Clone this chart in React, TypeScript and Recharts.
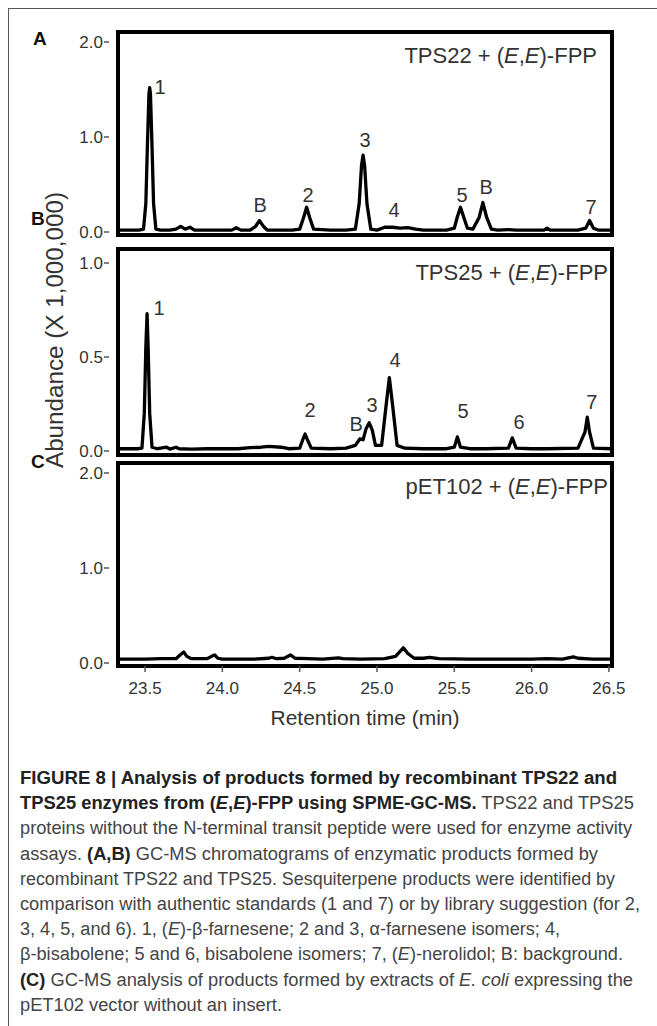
import React from 'react';
import { LineChart, Line, XAxis, YAxis, ReferenceDot } from 'recharts';

const X_MIN = 23.325;
const X_MAX = 26.52;
const xTicks = [23.5, 24.0, 24.5, 25.0, 25.5, 26.0, 26.5];
const yTicksA = [0, 1, 2];
const yTicksB = [0, 0.5, 1];
const yTicksC = [0, 1, 2];

// retention time (min), abundance (x 1,000,000)
const tps22Trace: [number, number][] = [
  [23.325, 0.02], [23.4, 0.02], [23.46, 0.02], [23.49, 0.03], [23.505, 0.3], [23.515, 0.9], [23.525, 1.45],
  [23.53, 1.52], [23.535, 1.45], [23.545, 0.9], [23.555, 0.3], [23.57, 0.03], [23.6, 0.02], [23.66, 0.02],
  [23.7, 0.03], [23.73, 0.06], [23.76, 0.03], [23.79, 0.05], [23.82, 0.02], [23.9, 0.02], [24.0, 0.02],
  [24.06, 0.02], [24.09, 0.045], [24.12, 0.02], [24.18, 0.02], [24.215, 0.06], [24.24, 0.12], [24.265, 0.06],
  [24.29, 0.02], [24.45, 0.02], [24.5, 0.03], [24.525, 0.15], [24.545, 0.26], [24.565, 0.15], [24.59, 0.03],
  [24.7, 0.02], [24.8, 0.02], [24.86, 0.03], [24.885, 0.3], [24.9, 0.7], [24.91, 0.81], [24.92, 0.7],
  [24.935, 0.3], [24.96, 0.03], [25.0, 0.02], [25.05, 0.05], [25.1, 0.05], [25.15, 0.04], [25.2, 0.045],
  [25.25, 0.03], [25.3, 0.02], [25.45, 0.02], [25.5, 0.04], [25.52, 0.16], [25.54, 0.26], [25.56, 0.16],
  [25.585, 0.04], [25.62, 0.03], [25.66, 0.15], [25.685, 0.31], [25.71, 0.15], [25.74, 0.03], [25.78, 0.02],
  [25.85, 0.025], [25.9, 0.02], [26.0, 0.02], [26.08, 0.02], [26.1, 0.04], [26.12, 0.02], [26.3, 0.02],
  [26.35, 0.04], [26.375, 0.12], [26.4, 0.04], [26.43, 0.02], [26.52, 0.02],
];

const tps25Trace: [number, number][] = [
  [23.325, 0.012], [23.45, 0.012], [23.48, 0.015], [23.495, 0.2], [23.505, 0.55], [23.513, 0.73], [23.52, 0.55],
  [23.53, 0.2], [23.545, 0.02], [23.58, 0.012], [23.64, 0.02], [23.66, 0.01], [23.7, 0.02], [23.72, 0.012],
  [23.8, 0.01], [23.9, 0.012], [24.0, 0.012], [24.1, 0.012], [24.18, 0.018], [24.25, 0.02], [24.3, 0.025],
  [24.38, 0.02], [24.43, 0.012], [24.5, 0.015], [24.52, 0.06], [24.535, 0.09], [24.55, 0.06], [24.575, 0.015],
  [24.7, 0.012], [24.8, 0.015], [24.86, 0.03], [24.89, 0.065], [24.91, 0.06], [24.93, 0.12], [24.95, 0.15],
  [24.97, 0.11], [24.99, 0.03], [25.03, 0.03], [25.06, 0.25], [25.08, 0.39], [25.1, 0.25], [25.13, 0.03],
  [25.18, 0.015], [25.3, 0.012], [25.45, 0.012], [25.5, 0.02], [25.52, 0.075], [25.54, 0.02], [25.6, 0.012],
  [25.7, 0.012], [25.85, 0.015], [25.875, 0.07], [25.9, 0.015], [26.0, 0.012], [26.1, 0.012], [26.3, 0.015],
  [26.345, 0.1], [26.36, 0.18], [26.375, 0.1], [26.4, 0.015], [26.52, 0.012],
];

const pet102Trace: [number, number][] = [
  [23.325, 0.04], [23.5, 0.04], [23.6, 0.045], [23.7, 0.045], [23.73, 0.09], [23.75, 0.115], [23.77, 0.07],
  [23.8, 0.045], [23.9, 0.045], [23.93, 0.07], [23.95, 0.085], [23.97, 0.05], [24.0, 0.04], [24.1, 0.04],
  [24.2, 0.04], [24.3, 0.05], [24.32, 0.06], [24.35, 0.045], [24.4, 0.05], [24.44, 0.085], [24.47, 0.05],
  [24.55, 0.045], [24.65, 0.04], [24.75, 0.055], [24.78, 0.045], [24.9, 0.04], [25.05, 0.045], [25.12, 0.07],
  [25.17, 0.16], [25.2, 0.1], [25.24, 0.05], [25.3, 0.05], [25.34, 0.06], [25.4, 0.045], [25.6, 0.04],
  [25.8, 0.04], [26.0, 0.04], [26.1, 0.045], [26.2, 0.04], [26.27, 0.065], [26.3, 0.05], [26.4, 0.04],
  [26.52, 0.04],
];

// peak annotations: retention time, abundance, text
const tps22Labels: [number, number, string][] = [
  [23.597, 1.526, '1'], [24.244, 0.284, 'B'], [24.554, 0.389, '2'], [24.923, 0.968, '3'],
  [25.11, 0.232, '4'], [25.55, 0.389, '5'], [25.706, 0.474, 'B'], [26.385, 0.263, '7'],
];
const tps25Labels: [number, number, string][] = [
  [23.59, 0.76, '1'], [24.567, 0.218, '2'], [24.865, 0.144, 'B'], [24.968, 0.245, '3'],
  [25.117, 0.484, '4'], [25.557, 0.213, '5'], [25.919, 0.154, '6'], [26.39, 0.26, '7'],
];

const FONT = '"Liberation Sans", Arial, Helvetica, sans-serif';

type Seg = [string, string];
const captionLines: Seg[][] = [
  [['FIGURE 8 | Analysis of products formed by recombinant TPS22 and', 'b']],
  [['TPS25 enzymes from (', 'b'], ['E', 'bi'], [',', 'b'], ['E', 'bi'], [')-FPP using SPME-GC-MS.', 'b'], [' TPS22 and TPS25', 'n']],
  [['proteins without the N-terminal transit peptide were used for enzyme activity', 'n']],
  [['assays. ', 'n'], ['(A,B)', 'b'], [' GC-MS chromatograms of enzymatic products formed by', 'n']],
  [['recombinant TPS22 and TPS25. Sesquiterpene products were identified by', 'n']],
  [['comparison with authentic standards (1 and 7) or by library suggestion (for 2,', 'n']],
  [['3, 4, 5, and 6). 1, (', 'n'], ['E', 'i'], [')-β-farnesene; 2 and 3, α-farnesene isomers; 4,', 'n']],
  [['β-bisabolene; 5 and 6, bisabolene isomers; 7, (', 'n'], ['E', 'i'], [')-nerolidol; B: background.', 'n']],
  [['(C)', 'b'], [' GC-MS analysis of products formed by extracts of ', 'n'], ['E. coli', 'i'], [' expressing the', 'n']],
  [['pET102 vector without an insert.', 'n']],
];
const captionWidths = [597, 614, 612, 578, 595, 620, 540, 603, 613, 262];

const FRAME = { stroke: '#000', strokeWidth: 4, strokeLinecap: 'square' as const };

function YTick(props: any) {
  const { x, y, payload } = props;
  return (
    <g>
      <line x1={x - 6} x2={x - 1} y1={y} y2={y} stroke="#555" strokeWidth={1.5} />
      <text x={x - 7} y={y} dy="0.36em" textAnchor="end" fontSize={17} fill="#333" fontFamily={FONT}>
        {Number(payload.value).toFixed(1)}
      </text>
    </g>
  );
}

interface PanelProps {
  trace: [number, number][];
  labels: [number, number, string][];
  yDomain: [number, number];
  yTicks: number[];
  top: number;
  plotHeight: number;
  showX: boolean;
}

function Panel({ trace, labels, yDomain, yTicks, top, plotHeight, showX }: PanelProps) {
  const rows = trace.map(([t, v]) => ({ t, v }));
  const margin = { top: 9, right: 19, bottom: showX ? 5 : 10, left: 0 };
  const xh = showX ? 60 : 1;
  const height = margin.top + 1 + plotHeight + margin.bottom + xh;
  return (
    <div style={{ position: 'absolute', left: 8, top }}>
      <LineChart width={624} height={height} data={rows} margin={margin}>
        <XAxis
          type="number"
          dataKey="t"
          domain={[X_MIN, X_MAX]}
          allowDataOverflow
          ticks={xTicks}
          interval={0}
          height={xh}
          axisLine={FRAME}
          tickSize={6}
          tickLine={showX ? { stroke: '#555', strokeWidth: 1.5 } : false}
          tickMargin={10}
          tick={showX ? { fontSize: 17, fill: '#333', fontFamily: FONT } : false}
          tickFormatter={(v: number) => v.toFixed(1)}
          label={
            showX
              ? { value: 'Retention time (min)', position: 'insideBottom', offset: 1, fontSize: 21, fill: '#333', fontFamily: FONT }
              : undefined
          }
        />
        <XAxis
          xAxisId="top"
          orientation="top"
          type="number"
          domain={[X_MIN, X_MAX]}
          allowDataOverflow
          height={1}
          axisLine={FRAME}
          tick={false}
          tickLine={false}
        />
        <YAxis
          type="number"
          domain={yDomain}
          allowDataOverflow
          ticks={yTicks}
          interval={0}
          width={110}
          axisLine={FRAME}
          tickLine={false}
          tickSize={0}
          tickMargin={8}
          tick={<YTick />}
        />
        <YAxis
          yAxisId="right"
          orientation="right"
          type="number"
          domain={yDomain}
          allowDataOverflow
          width={1}
          axisLine={FRAME}
          tick={false}
          tickLine={false}
        />
        <Line
          type="linear"
          dataKey="v"
          stroke="#000"
          strokeWidth={3.3}
          strokeLinejoin="round"
          dot={false}
          activeDot={false}
          isAnimationActive={false}
        />
        {labels.map(([t, v, txt], i) => (
          <ReferenceDot
            key={i}
            x={t}
            y={v}
            r={0}
            fill="none"
            stroke="none"
            ifOverflow="visible"
            label={{ value: txt, position: 'center', fontSize: 20, fill: '#333', fontFamily: FONT }}
          />
        ))}
      </LineChart>
    </div>
  );
}

function segStyle(s: string): any {
  return {
    fontWeight: s.includes('b') ? 700 : 400,
    fontStyle: s.includes('i') ? 'italic' : 'normal',
    fill: s.includes('b') ? '#222' : '#444',
  };
}

function Title({ x, y, lead }: { x: number; y: number; lead: string }) {
  return (
    <text x={x} y={y} textAnchor="end" fontSize={22} fill="#333" fontFamily={FONT}>
      {lead} + (<tspan fontStyle="italic">E</tspan>,<tspan fontStyle="italic">E</tspan>)-FPP
    </text>
  );
}

export default function App() {
  return (
    <div
      style={{
        position: 'fixed',
        left: 0,
        top: 0,
        width: 657,
        height: 1026,
        overflow: 'hidden',
        background: '#fff',
        fontFamily: FONT,
      }}
    >
      <div
        style={{
          position: 'absolute',
          left: 8,
          top: 8,
          width: 720,
          height: 1100,
          borderTop: '1.5px solid #555',
          borderLeft: '1.5px solid #555',
        }}
      />
      <Panel trace={tps22Trace} labels={tps22Labels} yDomain={[-0.0316, 2.105]} yTicks={yTicksA} top={22} plotHeight={203} showX={false} />
      <Panel trace={tps25Trace} labels={tps25Labels} yDomain={[-0.0213, 1.0745]} yTicks={yTicksB} top={239} plotHeight={206} showX={false} />
      <Panel trace={pet102Trace} labels={[]} yDomain={[-0.0316, 2.105]} yTicks={yTicksC} top={453} plotHeight={203} showX={true} />
      <svg
        width={657}
        height={1026}
        style={{ position: 'absolute', left: 0, top: 0, pointerEvents: 'none' }}
        fontFamily={FONT}
      >
        <text x={33} y={45} fontSize={19} fontWeight={700} fill="#111">A</text>
        <text x={31} y={225} fontSize={19} fontWeight={700} fill="#111">B</text>
        <text x={31} y={468} fontSize={19} fontWeight={700} fill="#111">C</text>
        <text
          transform="translate(63,330) rotate(-90)"
          textAnchor="middle"
          fontSize={23}
          fill="#333"
          textLength={276}
          lengthAdjust="spacingAndGlyphs"
        >
          Abundance (X 1,000,000)
        </text>
        <Title x={597} y={63} lead="TPS22" />
        <Title x={608} y={280} lead="TPS25" />
        <Title x={608} y={494} lead="pET102" />
        {captionLines.map((segs, i) => (
          <text
            key={i}
            x={20}
            y={784 + 25.2 * i}
            fontSize={18}
            textLength={captionWidths[i]}
            lengthAdjust="spacingAndGlyphs"
            style={{ whiteSpace: 'pre' }}
          >
            {segs.map(([t, s], j) => (
              <tspan key={j} {...segStyle(s)}>
                {t}
              </tspan>
            ))}
          </text>
        ))}
      </svg>
    </div>
  );
}
